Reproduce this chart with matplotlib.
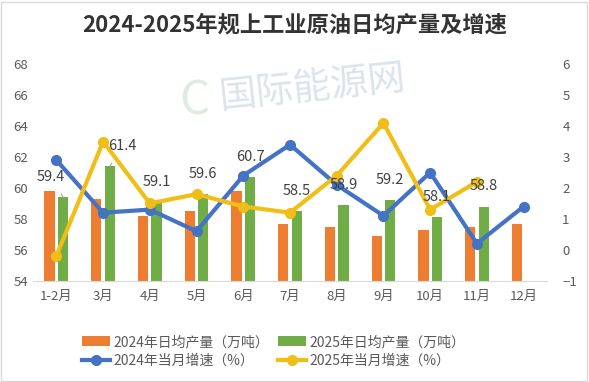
import matplotlib
matplotlib.use("Agg")
import matplotlib.pyplot as plt
import numpy as np
from matplotlib.patches import Rectangle

plt.rcParams['font.family'] = ['Noto Sans CJK SC', 'DejaVu Sans']

months = ["1-2月", "3月", "4月", "5月", "6月", "7月", "8月", "9月", "10月", "11月", "12月"]
prod_2024 = [59.8, 59.3, 58.2, 58.5, 59.8, 57.7, 57.5, 56.9, 57.3, 57.5, 57.7]
prod_2025 = [59.4, 61.4, 59.1, 59.6, 60.7, 58.5, 58.9, 59.2, 58.1, 58.8]
growth_2024 = [2.9, 1.2, 1.3, 0.6, 2.4, 3.4, 2.1, 1.1, 2.5, 0.2, 1.4]
growth_2025 = [-0.2, 3.5, 1.5, 1.8, 1.4, 1.2, 2.4, 4.1, 1.3, 2.2]

left_ticks = [54, 56, 58, 60, 62, 64, 66, 68]
right_ticks = [-1, 0, 1, 2, 3, 4, 5, 6]

C_OR = "#ED7D31"
C_GR = "#70AD47"
C_BL = "#4472C4"
C_YE = "#F0BE16"
TXT = "#595959"

fig = plt.figure(figsize=(5.89, 3.82), dpi=100)
ax = fig.add_axes([33/589, 1-280.7/382, (547-33)/589, (280.7-64.3)/382])
ax2 = ax.twinx()

x = np.arange(len(months))
x25 = np.arange(len(prod_2025))
w = 0.22
off = 0.145
b1 = ax.bar(x - off, prod_2024, w, color=C_OR, zorder=2, label="2024年日均产量（万吨）")
b2 = ax.bar(x25 + off, prod_2025, w, color=C_GR, zorder=2, label="2025年日均产量（万吨）")

ax.set_ylim(54, 68)
ax.set_xlim(-0.5, len(months) - 0.5)
ax.set_yticks(left_ticks)
ax.set_xticks(x)
ax.set_xticklabels(months)
ax.tick_params(axis='both', length=0, colors=TXT, labelsize=9.5)
ax.tick_params(axis='x', pad=7)
for s in ["top", "right", "left"]:
    ax.spines[s].set_visible(False)
ax.spines["bottom"].set_color("#D9D9D9")

ax2.set_ylim(-1, 6)
ax2.set_yticks(right_ticks)
ax2.tick_params(axis='y', length=0, colors=TXT, labelsize=9.5, pad=11)
for s in ["top", "right", "left", "bottom"]:
    ax2.spines[s].set_visible(False)

l1, = ax2.plot(x, growth_2024, color=C_BL, lw=3, marker='o', ms=7, zorder=4,
               label="2024年当月增速（%）")
l2, = ax2.plot(x25, growth_2025, color=C_YE, lw=3, marker='o', ms=7, zorder=5,
               label="2025年当月增速（%）")

# data labels on 2025 bars
label_dx = {0: -9, 1: 9}
for i, v in enumerate(prod_2025):
    dx = label_dx.get(i, 0)
    kw = {}
    if i in label_dx:
        kw['arrowprops'] = dict(arrowstyle='-', color='#A6A6A6', lw=0.8, shrinkA=6, shrinkB=0)
    ax2.annotate(f"{v:.1f}", xy=(x25[i] + off, (v - 54) / 14 * 7 - 1), xytext=(dx, 14.5),
                 textcoords='offset points', ha='center', va='center', fontsize=10.5,
                 color="#404040", zorder=6, **kw)

# watermark
fig.text(0.53, 0.77, "国际能源网", fontsize=27, color="#D5DEE9", alpha=0.85,
         ha='center', va='center', rotation=6, zorder=0)
fig.text(0.33, 0.735, "C", fontsize=34, color="#D4E8D8", alpha=0.8,
         ha='center', va='center', zorder=0)

fig.suptitle("2024-2025年规上工业原油日均产量及增速", x=0.5, y=1-25/382, va='center',
             fontsize=16, fontweight='bold', color="#333333")

fig.legend(handles=[b1, l1, b2, l2], ncol=2, loc='center', bbox_to_anchor=(0.465, 0.08),
           frameon=False, fontsize=10, labelcolor=TXT, handlelength=2.0, handleheight=0.8,
           columnspacing=0.6, handletextpad=0.3, labelspacing=0.35)

fig.patches.append(Rectangle((0.002, 0.003), 0.995, 0.993, transform=fig.transFigure,
                             fill=False, edgecolor="#D9D9D9", lw=1))

fig.savefig("out.png", dpi=100)
